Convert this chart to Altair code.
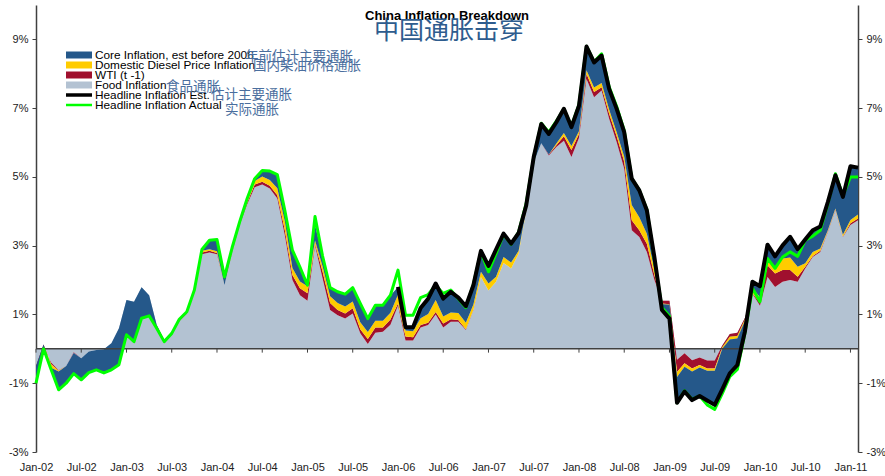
import json
import altair as alt
import pandas as pd

# Monthly contributions to China CPI inflation (percentage points), Jan-2002 .. Feb-2011
food = [
    -0.55, 0.05, -0.40, -0.62, -0.50, -0.10, -0.27, -0.08, -0.03, -0.01, 0.16, 0.60,
    1.42, 1.37, 1.79, 1.56, 0.70, 0.22, 0.40, 0.80, 1.02, 1.66, 2.75, 2.80,
    2.75, 1.85, 2.80, 3.60, 4.20, 4.70, 4.78, 4.66, 4.37, 3.30, 2.00, 1.56,
    1.40, 3.00, 2.05, 1.13, 0.98, 0.88, 1.03, 0.45, 0.14, 0.47, 0.50, 0.70,
    1.25, 0.24, 0.24, 0.62, 0.69, 1.00, 0.62, 0.79, 0.79, 0.55, 1.12, 2.09,
    1.70, 1.95, 2.50, 2.34, 2.77, 4.00, 5.43, 5.98, 5.62, 5.87, 6.05, 5.58,
    6.13, 7.85, 7.32, 7.51, 6.69, 6.01, 5.24, 3.45, 3.25, 2.82, 2.00, 1.40,
    1.40, -0.32, -0.13, -0.33, -0.25, -0.34, -0.34, 0.10, 0.43, 0.47, 0.90, 1.60,
    1.25, 2.09, 1.80, 1.95, 2.00, 1.95, 2.34, 2.67, 2.82, 3.40, 4.03, 3.25,
    3.60, 3.74,
]
wti = [
    0.05, 0.08, -0.05, -0.02, 0.00, -0.02, 0.00, 0.00, 0.00, 0.00, 0.00, 0.00,
    0.00, 0.00, 0.00, 0.00, 0.00, 0.02, 0.03, 0.04, 0.04, 0.03, 0.05, 0.05,
    0.04, 0.00, 0.03, 0.03, 0.05, 0.08, 0.08, 0.08, 0.10, 0.15, 0.15, 0.20,
    0.22, 0.05, 0.20, 0.20, 0.15, 0.15, 0.15, 0.12, 0.15, 0.15, 0.12, 0.15,
    0.07, 0.12, 0.10, 0.07, 0.07, 0.07, 0.12, 0.07, 0.05, 0.02, 0.02, 0.00,
    0.00, 0.00, 0.00, 0.00, 0.00, 0.00, 0.00, 0.00, 0.03, 0.05, 0.13, 0.20,
    0.12, 0.15, 0.15, 0.10, 0.15, 0.17, 0.20, 0.29, 0.20, 0.24, 0.15, -0.08,
    -0.10, -0.35, -0.29, -0.24, -0.22, -0.23, -0.23, -0.05, -0.08, -0.10, -0.05, 0.02,
    0.10, 0.34, 0.39, 0.34, 0.29, 0.15, 0.05, 0.03, 0.03, 0.02, 0.02, 0.02,
    0.05, 0.05,
]
diesel = [
    0.00, 0.00, -0.10, -0.02, 0.00, 0.00, 0.00, 0.00, 0.00, 0.00, 0.00, 0.00,
    0.00, 0.00, 0.00, 0.00, 0.00, 0.02, 0.02, 0.02, 0.02, 0.02, 0.05, 0.05,
    0.05, 0.00, 0.03, 0.03, 0.05, 0.10, 0.15, 0.17, 0.20, 0.25, 0.20, 0.20,
    0.20, 0.10, 0.15, 0.20, 0.20, 0.20, 0.20, 0.20, 0.20, 0.20, 0.20, 0.20,
    0.25, 0.17, 0.17, 0.20, 0.25, 0.35, 0.20, 0.20, 0.20, 0.19, 0.15, 0.15,
    0.20, 0.15, 0.17, 0.17, 0.08, 0.03, 0.00, 0.00, 0.00, 0.05, 0.10, 0.12,
    0.08, 0.10, 0.13, 0.12, 0.12, 0.12, 0.15, 0.44, 0.38, 0.29, 0.15, -0.02,
    -0.02, -0.15, -0.10, -0.09, -0.07, -0.07, -0.07, -0.05, -0.08, -0.07, -0.05, 0.15,
    0.15, 0.15, 0.15, 0.34, 0.37, 0.29, 0.10, 0.12, 0.07, 0.03, 0.03, 0.05,
    0.10, 0.12,
]
core = [
    -0.50, -0.13, -0.05, -0.53, -0.50, -0.60, -0.63, -0.61, -0.58, -0.69, -0.77, -1.06,
    -1.01, -1.16, -0.90, -0.60, -0.10, -0.05, 0.00, 0.00, 0.00, 0.00, 0.04, 0.26,
    0.34, 0.25, 0.08, 0.03, 0.07, 0.07, 0.18, 0.26, 0.40, 0.32, 0.52, 0.42,
    0.03, 0.45, 0.30, 0.25, 0.33, 0.36, 0.40, 0.55, 0.39, 0.45, 0.45, 0.50,
    0.23, 0.10, 0.12, 0.30, 0.45, 0.48, 0.52, 0.60, 0.45, 0.48, 0.56, 0.61,
    0.51, 0.79, 0.68, 0.55, 0.52, 0.14, 0.15, 0.56, 0.60, 0.62, 0.70, 0.55,
    0.74, 0.69, 0.73, 0.80, 0.60, 0.68, 0.71, 0.77, 0.78, 0.68, 0.37, -0.17,
    -0.40, -0.75, -0.72, -0.83, -0.83, -0.86, -0.99, -1.18, -0.98, -0.77, -0.30, 0.18,
    0.32, 0.45, 0.35, 0.38, 0.60, 0.51, 0.69, 0.63, 0.64, 0.82, 0.97, 1.10,
    1.56, 1.36,
]
# Headline estimate is only published from Jan-2006 onwards
headline_est = [None] * 48 + [
    1.80, 0.63, 0.63, 1.19, 1.46, 1.90, 1.46, 1.66, 1.49, 1.24, 1.85, 2.85,
    2.41, 2.89, 3.35, 3.06, 3.37, 4.17, 5.58, 6.54, 6.25, 6.59, 6.98, 6.45,
    7.07, 8.79, 8.33, 8.53, 7.56, 6.98, 6.30, 4.95, 4.61, 4.03, 2.67, 1.13,
    0.88, -1.57, -1.24, -1.49, -1.37, -1.50, -1.63, -1.18, -0.71, -0.47, 0.50, 1.95,
    1.82, 3.03, 2.69, 3.01, 3.26, 2.90, 3.18, 3.45, 3.56, 4.27, 5.05, 4.42,
    5.31, 5.27,
]
headline_actual = [
    -1.00, 0.00, -0.60, -1.19, -1.00, -0.72, -0.90, -0.69, -0.61, -0.70, -0.61, -0.46,
    0.41, 0.21, 0.89, 0.96, 0.60, 0.21, 0.45, 0.86, 1.08, 1.71, 2.89, 3.16,
    3.18, 2.09, 2.94, 3.69, 4.37, 4.95, 5.19, 5.17, 5.07, 4.02, 2.87, 2.38,
    1.85, 3.85, 2.70, 1.78, 1.66, 1.59, 1.78, 1.32, 0.88, 1.27, 1.27, 1.56,
    2.29, 0.98, 0.98, 1.49, 1.58, 1.85, 1.61, 1.71, 1.46, 1.20, 1.88, 2.82,
    2.24, 2.77, 3.33, 3.04, 3.40, 4.22, 5.58, 6.56, 6.30, 6.62, 6.98, 6.48,
    7.10, 8.80, 8.35, 8.58, 7.62, 7.05, 6.35, 4.95, 4.62, 4.05, 2.60, 1.20,
    0.95, -1.57, -1.22, -1.47, -1.37, -1.63, -1.76, -1.30, -0.81, -0.60, 0.45, 1.76,
    1.37, 2.63, 2.34, 2.67, 2.82, 2.69, 3.16, 3.28, 3.45, 4.22, 5.09, 4.46,
    5.00, 5.00,
]

tick_labels = [
    "Jan-02", "Jul-02", "Jan-03", "Jul-03", "Jan-04", "Jul-04", "Jan-05",
    "Jul-05", "Jan-06", "Jul-06", "Jan-07", "Jul-07", "Jan-08", "Jul-08",
    "Jan-09", "Jul-09", "Jan-10", "Jul-10", "Jan-11",
]
y_ticks = [-3, -1, 1, 3, 5, 7, 9]

legend_labels = [
    "Core Inflation, est before 2006",
    "Domestic Diesel Price Inflation",
    "WTI (t -1)",
    "Food Inflation",
    "Headline Inflation Est.",
    "Headline Inflation Actual",
]
legend_notes = ["年前估计主要通胀", "国内柴油价格通胀", "食品通胀", "估计主要通胀", "实际通胀"]

C_CORE = "#25588A"
C_DIESEL = "#FFCC00"
C_WTI = "#A0102E"
C_FOOD = "#B3C2D2"
C_EST = "#000000"
C_ACT = "#00FF00"
FONT = "Liberation Sans"
CJK = "Noto Sans CJK SC"
NOTE_COLOR = "#4A6E9E"

n = len(food)
df = pd.DataFrame({
    "m": list(range(n)),
    "food": food, "wti": wti, "diesel": diesel, "core": core,
    "est": headline_est, "actual": headline_actual,
})
# cumulative stacking, series by series (food at the base)
df["zero"] = 0.0
df["c1"] = df["food"]
df["c2"] = df["c1"] + df["wti"]
df["c3"] = df["c2"] + df["diesel"]
df["c4"] = df["c3"] + df["core"]

W, H = 822, 447
yscale = alt.Scale(domain=[-3, 10], nice=False, zero=False)
xscale = alt.Scale(domain=[0, n - 1], nice=False, zero=False)

x_label_expr = json.dumps(tick_labels) + "[round(datum.value / 6)]"
xaxis = alt.Axis(values=list(range(0, n, 6)), labelExpr=x_label_expr, title=None,
                 domain=False, ticks=False, grid=False, labelPadding=9,
                 labelFont=FONT, labelFontSize=11, labelColor="#222222",
                 labelFlush=False, labelOverlap=False)


def yaxis(orient):
    return alt.Axis(orient=orient, values=y_ticks, labelExpr="datum.value + '%'",
                    title=None, grid=False, domainColor="#404040", domainWidth=1.5,
                    tickColor="#404040", tickWidth=1, tickSize=4, labelPadding=4,
                    labelFont=FONT, labelFontSize=11, labelColor="#222222")


YL = yaxis("left")
X = alt.X("m:Q", scale=xscale, axis=xaxis)

base = alt.Chart(df)


def band(lo, hi, color):
    return base.mark_area(color=color, opacity=1, interpolate="linear").encode(
        x=X,
        y=alt.Y(f"{lo}:Q", scale=yscale, axis=YL),
        y2=alt.Y2(f"{hi}:Q"),
    )


food_area = band("zero", "c1", C_FOOD)
wti_area = band("c1", "c2", C_WTI)
diesel_area = band("c2", "c3", C_DIESEL)
core_area = band("c3", "c4", C_CORE)

zero_line = alt.Chart(pd.DataFrame({"v": [0]})).mark_rule(
    color="#404040", strokeWidth=1.5
).encode(y=alt.Y("v:Q", scale=yscale, axis=YL))

ticks_df = pd.DataFrame({"m": list(range(0, n, 6)), "top": 0.0, "bottom": -0.11})
zero_ticks = alt.Chart(ticks_df).mark_rule(color="#404040", strokeWidth=1).encode(
    x=X, y=alt.Y("top:Q", scale=yscale, axis=YL), y2="bottom:Q"
)

actual_line = base.mark_line(color=C_ACT, strokeWidth=3, strokeJoin="round").encode(
    x=X, y=alt.Y("actual:Q", scale=yscale, axis=YL)
)
est_line = base.transform_filter("isValid(datum.est)").mark_line(
    color=C_EST, strokeWidth=4, strokeJoin="round"
).encode(x=X, y=alt.Y("est:Q", scale=yscale, axis=YL))

one = pd.DataFrame({"k": [0]})
OX, OY = 36, 5  # view origin inside the page


def text_at(txt, x, y, **kw):
    return alt.Chart(one).mark_text(text=txt, **kw).encode(
        x=alt.value(x - OX), y=alt.value(y - OY)
    )


titles = [
    text_at("China Inflation Breakdown", 447, 16, font=FONT, fontSize=13,
            fontWeight="bold", color="#000000", align="center", baseline="middle"),
    text_at("中国通胀击穿", 449, 31, font=CJK, fontSize=25, color="#2E5C8E",
            align="center", baseline="middle"),
]

legend = []
row_y = [55, 65, 75, 85, 95, 105]
swatch_colors = [C_CORE, C_DIESEL, C_WTI, C_FOOD]
for i, col in enumerate(swatch_colors):
    legend.append(alt.Chart(one).mark_rect(color=col).encode(
        x=alt.value(66 - OX), x2=alt.value(92 - OX),
        y=alt.value(row_y[i] - 3.5 - OY), y2=alt.value(row_y[i] + 3.5 - OY)))
for i, (col, w) in enumerate([(C_EST, 3.5), (C_ACT, 2.5)]):
    yy = row_y[4 + i]
    legend.append(alt.Chart(one).mark_rule(color=col, strokeWidth=w).encode(
        x=alt.value(66 - OX), x2=alt.value(92 - OX),
        y=alt.value(yy - OY), y2=alt.value(yy - OY)))
for i, lab in enumerate(legend_labels):
    legend.append(text_at(lab, 95, row_y[i], font=FONT, fontSize=11.8,
                          color="#000000", align="left", baseline="middle"))

note_pos = [(245, 57), (253, 66), (166, 87), (211, 95), (225, 110)]
for txt, (nx, ny) in zip(legend_notes, note_pos):
    legend.append(text_at(txt, nx, ny, font=CJK, fontSize=13.5, color=NOTE_COLOR,
                          align="left", baseline="middle"))

main = alt.layer(
    food_area, wti_area, diesel_area, core_area,
    zero_line, zero_ticks, actual_line, est_line,
    *titles, *legend,
)

# mirror of the value axis on the right-hand side
right_axis = base.mark_point(opacity=0).encode(
    x=X, y=alt.Y("actual:Q", scale=yscale, axis=yaxis("right"))
)

chart = alt.layer(main, right_axis).resolve_scale(y="independent").properties(
    width=W, height=H,
    autosize=alt.AutoSizeParams(type="none"),
    padding={"left": OX, "top": OY, "right": 885 - OX - W, "bottom": 476 - OY - H},
    background="white",
).configure_view(stroke=None)

chart.save("out.html", embed_options={"renderer": "svg", "actions": False})
